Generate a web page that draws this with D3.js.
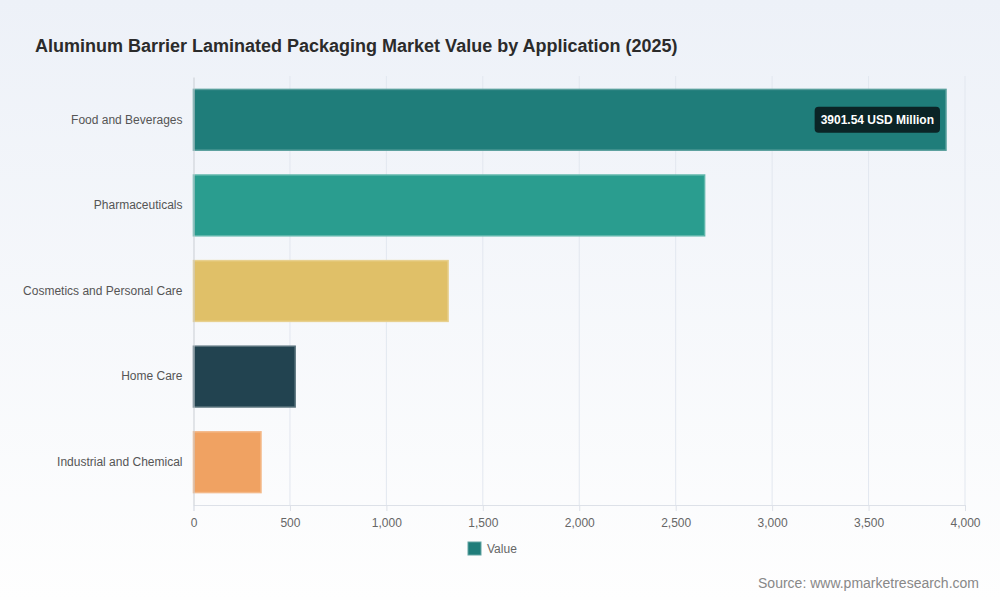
<!DOCTYPE html>
<html>
<head>
<meta charset="utf-8">
<script src="https://cdn.jsdelivr.net/npm/d3@7"></script>
<style>
  html, body { margin: 0; padding: 0; }
  body { width: 1000px; height: 600px; overflow: hidden; font-family: "Liberation Sans", Arial, sans-serif; }
  #chart { width: 1000px; height: 600px; }
</style>
</head>
<body>
<div id="chart"></div>
<script>
const categories = ["Food and Beverages", "Pharmaceuticals", "Cosmetics and Personal Care", "Home Care", "Industrial and Chemical"];
const values = [3901.54, 2650, 1320, 527, 350];
const barColors = ["#1f7d7a", "#2a9d8f", "#e0c068", "#224350", "#f0a262"];
const xTicks = [0, 500, 1000, 1500, 2000, 2500, 3000, 3500, 4000];

const W = 1000, H = 600;
const margin = {top: 77, right: 35, bottom: 95, left: 193.5};
const width = W - margin.left - margin.right,
      height = H - margin.top - margin.bottom;

const root = d3.select("#chart").append("svg")
    .attr("width", W)
    .attr("height", H);

const defs = root.append("defs");
const grad = defs.append("linearGradient")
    .attr("id", "bg")
    .attr("x1", 0).attr("y1", 0).attr("x2", 0).attr("y2", 1);
grad.append("stop").attr("offset", "0%").attr("stop-color", "#edf1f8");
grad.append("stop").attr("offset", "100%").attr("stop-color", "#fefefe");

root.append("rect")
    .attr("width", W).attr("height", H)
    .attr("fill", "url(#bg)");

root.append("text")
    .attr("x", 35).attr("y", 52)
    .attr("style", "font-size: 18px; font-weight: bold; fill: #2b2b2b;")
    .text("Aluminum Barrier Laminated Packaging Market Value by Application (2025)");

const svg = root.append("g")
    .attr("transform", "translate(" + margin.left + "," + margin.top + ")");

const x = d3.scaleLinear()
    .domain([0, 4000])
    .range([0, width]);

const y = d3.scaleBand()
    .domain(categories)
    .range([0, height])
    .paddingInner(0.29)
    .paddingOuter(0.145);

// grid
svg.append("g")
    .selectAll("line")
    .data(xTicks.slice(1))
    .enter().append("line")
    .attr("x1", d => x(d)).attr("x2", d => x(d))
    .attr("y1", -1).attr("y2", height)
    .attr("stroke", "#e2e7ef")
    .attr("stroke-width", 1);

// bars
svg.selectAll(".bar")
    .data(values)
    .enter().append("rect")
    .attr("class", "bar")
    .attr("x", 0)
    .attr("y", (d, i) => y(categories[i]))
    .attr("width", d => x(d))
    .attr("height", y.bandwidth())
    .attr("fill", (d, i) => barColors[i])
    .attr("stroke", (d, i) => d3.interpolateRgb(barColors[i], "#ffffff")(0.25))
    .attr("stroke-width", 1.5);

// x axis
const xAxis = svg.append("g")
    .attr("transform", "translate(0," + height + ")")
    .call(d3.axisBottom(x).tickValues(xTicks).tickFormat(d3.format(",")).tickSize(6).tickPadding(7));
xAxis.select(".domain").attr("stroke", "#dde1e8");
xAxis.selectAll(".tick line").attr("stroke", "#dde1e8");
xAxis.selectAll("text")
    .attr("style", "font-size: 12px; fill: #666; font-family: 'Liberation Sans', Arial, sans-serif;");

// y axis
const yAxis = svg.append("g")
    .call(d3.axisLeft(y).tickSize(0).tickPadding(11));
yAxis.select(".domain").attr("stroke", "#c9cdd3");
yAxis.selectAll("text")
    .attr("style", "font-size: 12px; fill: #555; font-family: 'Liberation Sans', Arial, sans-serif;");

// value label on top bar
const topVal = values[0];
const labelText = topVal.toFixed(2) + " USD Million";
const lab = svg.append("g");
const t = lab.append("text")
    .attr("style", "font-size: 12px; font-weight: bold; fill: #fff;")
    .attr("text-anchor", "end")
    .attr("x", x(topVal) - 12)
    .attr("y", y(categories[0]) + y.bandwidth() / 2 + 4)
    .text(labelText);
const bb = t.node().getBBox();
lab.insert("rect", "text")
    .attr("x", bb.x - 6)
    .attr("y", y(categories[0]) + y.bandwidth() / 2 - 13)
    .attr("width", bb.width + 12)
    .attr("height", 26)
    .attr("rx", 4)
    .attr("fill", "#0b2426");

// legend
const leg = root.append("g").attr("transform", "translate(468,542)");
leg.append("rect")
    .attr("width", 13).attr("height", 13)
    .attr("fill", barColors[0])
    .attr("stroke", d3.interpolateRgb(barColors[0], "#ffffff")(0.3));
leg.append("text")
    .attr("x", 19).attr("y", 11)
    .attr("style", "font-size: 12px; fill: #666;")
    .text("Value");

// source
root.append("text")
    .attr("x", 979).attr("y", 588)
    .attr("text-anchor", "end")
    .attr("style", "font-size: 14px; fill: #888;")
    .text("Source: www.pmarketresearch.com");
</script>
</body>
</html>
